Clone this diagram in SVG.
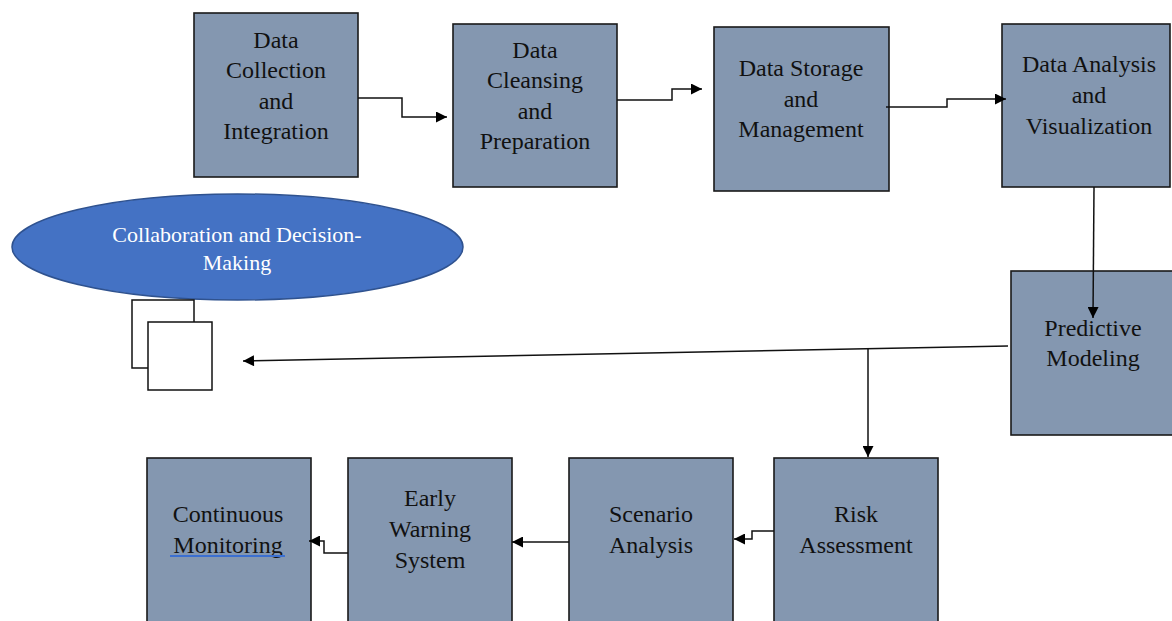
<svg xmlns="http://www.w3.org/2000/svg" width="1172" height="621" viewBox="0 0 1172 621">
<style>
.box{fill:#8497B0;stroke:#1a1a1a;stroke-width:1.6}
.t{font-family:"Liberation Serif","Times New Roman",serif;font-size:24px;fill:#111;text-anchor:middle}
.et{font-family:"Liberation Serif","Times New Roman",serif;font-size:22px;fill:#ffffff;text-anchor:middle}
.c{fill:none;stroke:#111;stroke-width:1.5}
.sq{fill:#ffffff;stroke:#111;stroke-width:1.5}
</style>
<defs>
<marker id="arr" viewBox="0 0 10 10" refX="10" refY="5" markerWidth="15" markerHeight="11" markerUnits="userSpaceOnUse" orient="auto">
<path d="M0,0 L10,5 L0,10 z" fill="#000"/>
</marker>
</defs>
<rect width="1172" height="621" fill="#ffffff"/>

<g id="collect">
<rect class="box" x="194" y="13" width="164" height="164"/>
<text class="t" x="276" y="48">Data</text>
<text class="t" x="276" y="78">Collection</text>
<text class="t" x="276" y="109">and</text>
<text class="t" x="276" y="139">Integration</text>
</g>
<g id="cleanse">
<rect class="box" x="453" y="24" width="164" height="163"/>
<text class="t" x="535" y="58">Data</text>
<text class="t" x="535" y="88">Cleansing</text>
<text class="t" x="535" y="119">and</text>
<text class="t" x="535" y="149">Preparation</text>
</g>
<g id="storage">
<rect class="box" x="714" y="27" width="175" height="164"/>
<text class="t" x="801" y="76">Data Storage</text>
<text class="t" x="801" y="107">and</text>
<text class="t" x="801" y="137">Management</text>
</g>
<g id="analysis">
<rect class="box" x="1002" y="24" width="168" height="163"/>
<text class="t" x="1089" y="72">Data Analysis</text>
<text class="t" x="1089" y="103">and</text>
<text class="t" x="1089" y="134">Visualization</text>
</g>
<g id="predictive">
<rect class="box" x="1011" y="271" width="165" height="164"/>
<text class="t" x="1093" y="336">Predictive</text>
<text class="t" x="1093" y="366">Modeling</text>
</g>
<g id="risk">
<rect class="box" x="774" y="458" width="164" height="170"/>
<text class="t" x="856" y="522">Risk</text>
<text class="t" x="856" y="553">Assessment</text>
</g>
<g id="scenario">
<rect class="box" x="569" y="458" width="164" height="170"/>
<text class="t" x="651" y="522">Scenario</text>
<text class="t" x="651" y="553">Analysis</text>
</g>
<g id="warning">
<rect class="box" x="348" y="458" width="164" height="170"/>
<text class="t" x="430" y="506">Early</text>
<text class="t" x="430" y="537">Warning</text>
<text class="t" x="430" y="568">System</text>
</g>
<g id="monitoring">
<rect class="box" x="147" y="458" width="164" height="170"/>
<text class="t" x="228" y="522">Continuous</text>
<text class="t" x="228" y="553">Monitoring</text>
<line x1="170" y1="556" x2="285" y2="556" stroke="#3b6fd1" stroke-width="2"/>
</g>
<g id="collaboration">
<ellipse cx="237.5" cy="247" rx="225.5" ry="53" fill="#4472C4" stroke="#2F528F" stroke-width="1.5"/>
<text class="et" x="237" y="242">Collaboration and Decision-</text>
<text class="et" x="237" y="270">Making</text>
</g>
<g id="documents">
<rect class="sq" x="132" y="300" width="62" height="68"/>
<rect class="sq" x="148" y="322" width="64" height="68"/>
</g>

<g id="connectors">
<polyline class="c" points="358,98 402,98 402,117 447,117" marker-end="url(#arr)"/>
<polyline class="c" points="617,100 672,100 672,89 702,89" marker-end="url(#arr)"/>
<polyline class="c" points="886,107 947,107 947,99 1006,99" marker-end="url(#arr)"/>
<line class="c" x1="1094" y1="187" x2="1093" y2="318" marker-end="url(#arr)"/>
<line class="c" x1="1008" y1="346" x2="243" y2="361" marker-end="url(#arr)"/>
<line class="c" x1="868" y1="348.5" x2="868" y2="457" marker-end="url(#arr)"/>
<polyline class="c" points="774,531 752,531 752,539 734,539" marker-end="url(#arr)"/>
<line class="c" x1="569" y1="542" x2="512" y2="542" marker-end="url(#arr)"/>
<polyline class="c" points="348,553 324,553 324,541 309,541" marker-end="url(#arr)"/>
</g>
</svg>
